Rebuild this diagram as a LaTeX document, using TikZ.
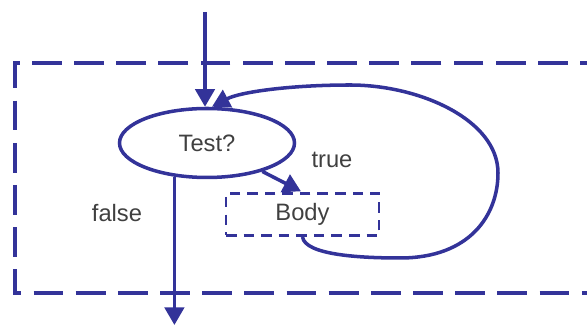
\documentclass[tikz,border=0pt]{standalone}
\usepackage{fontspec}
\setmainfont{Liberation Sans}
\usepackage{tikz}
\usetikzlibrary{arrows.meta,positioning,calc,shapes.geometric}
\definecolor{loopblue}{HTML}{333399}
\definecolor{ink}{HTML}{404040}
\tikzset{
  label/.style={font=\fontsize{13.5}{16}\selectfont,text=ink,inner sep=0pt},
  decision/.style={
    ellipse,draw=loopblue,line width=2pt,
    minimum width=3.5cm,minimum height=1.38cm,
    font=\fontsize{13.5}{16}\selectfont,text=ink,inner sep=0pt
  },
  bodybox/.style={
    rectangle,draw=loopblue,line width=1.6pt,dash pattern=on 6pt off 4pt,
    minimum width=3.06cm,minimum height=0.84cm,
    font=\fontsize{13.5}{16}\selectfont,text=ink,inner sep=0pt
  },
  frame/.style={draw=loopblue,line width=2pt,dash pattern=on 17pt off 7pt},
  flow/.style={-{Triangle[length=10pt,width=11pt]},line width=2pt,draw=loopblue,fill=loopblue}
}
\begin{document}
\begin{tikzpicture}
  \path[use as bounding box,clip] (0,0) rectangle (11.74,6.56);
  % loop frame, open to the right
  \draw[frame] (12.2,5.30) -- (0.30,5.30) -- (0.30,0.70) -- (12.2,0.70);
  \node[decision] (test) at (4.14,3.70) {Test?};
  \node[bodybox] (body) at (6.05,2.27) {Body};
  \coordinate (entry) at (4.10,6.32);
  \coordinate (exit) at (3.50,0.06);
  \node[label] (truelbl) at (6.64,3.36) {true};
  \node[label] (falselbl) at (2.34,2.30) {false};
  \draw[flow] (entry) -- (entry |- test.north);
  \draw[flow,shorten >=1pt] (test) -- (body.north);
  \draw[flow] (test.226) -- (test.226 |- exit);
  \draw[flow,fill=none,-{Triangle[length=10pt,width=11pt,fill=loopblue]}]
    (body.south) .. controls (6.10,1.46) and (7.2,1.40) .. (8.0,1.40)
    .. controls (9.4,1.40) and (9.96,2.26) .. (9.96,3.10)
    .. controls (9.96,4.16) and (8.4,4.86) .. (7.0,4.86)
    .. controls (5.8,4.86) and (4.8,4.72) .. ([xshift=0.1cm]test.north);
\end{tikzpicture}
\end{document}
